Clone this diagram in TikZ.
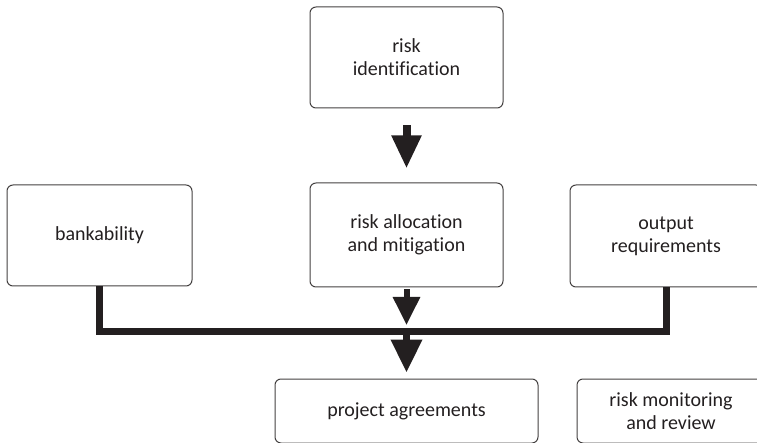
\documentclass[tikz,border=0pt]{standalone}
\usepackage{fontspec}
\setmainfont[Ligatures=NoCommon]{Carlito}
\usetikzlibrary{arrows.meta}
\definecolor{ink}{HTML}{231F20}
\tikzset{
  stepbox/.style={draw=ink!85,line width=1pt,rounded corners=6pt,align=center,
    inner sep=0pt,text=ink,font=\fontsize{20}{23}\selectfont},
  flow/.style={draw=ink,line width=#1},
  flow/.default=8pt
}

\begin{document}
\begin{tikzpicture}[x=1pt,y=-1pt]
      \useasboundingbox (0,0) rectangle (757,443);
      \node[stepbox,minimum width=193pt,minimum height=101pt] (ident) at (406.5,57.5) {risk\\identification};
      \node[stepbox,minimum width=193pt,minimum height=104pt] (alloc) at (406.5,235) {risk allocation\\and mitigation};
      \node[stepbox,minimum width=185pt,minimum height=101pt] (bank) at (99.5,235.5) {bankability};
      \node[stepbox,minimum width=192pt,minimum height=102pt] (output) at (666,236) {output\\requirements};
      \node[stepbox,minimum width=263pt,minimum height=64pt] (agree) at (406.5,411) {project agreements};
      \node[stepbox,minimum width=188pt,minimum height=64pt] (monitor) at (671,411) {risk monitoring\\and review};
      \coordinate (join) at (406.5,331);
      % arrows
      \draw[flow=8pt,-{Triangle[width=28pt,length=33pt]},shorten <=17pt,shorten >=14pt](ident)--(alloc);
      \draw[flow=7pt,line join=miter](bank.south)|-(join)-|(output.south);
      \draw[flow=6pt,-{Triangle[width=26pt,length=28pt]},shorten <=2pt,shorten >=6pt](alloc.south)--(join);
      \draw[flow=7pt,-{Triangle[width=30pt,length=33pt]},shorten >=6pt](join)--(agree.north);
    \end{tikzpicture}
\end{document}
